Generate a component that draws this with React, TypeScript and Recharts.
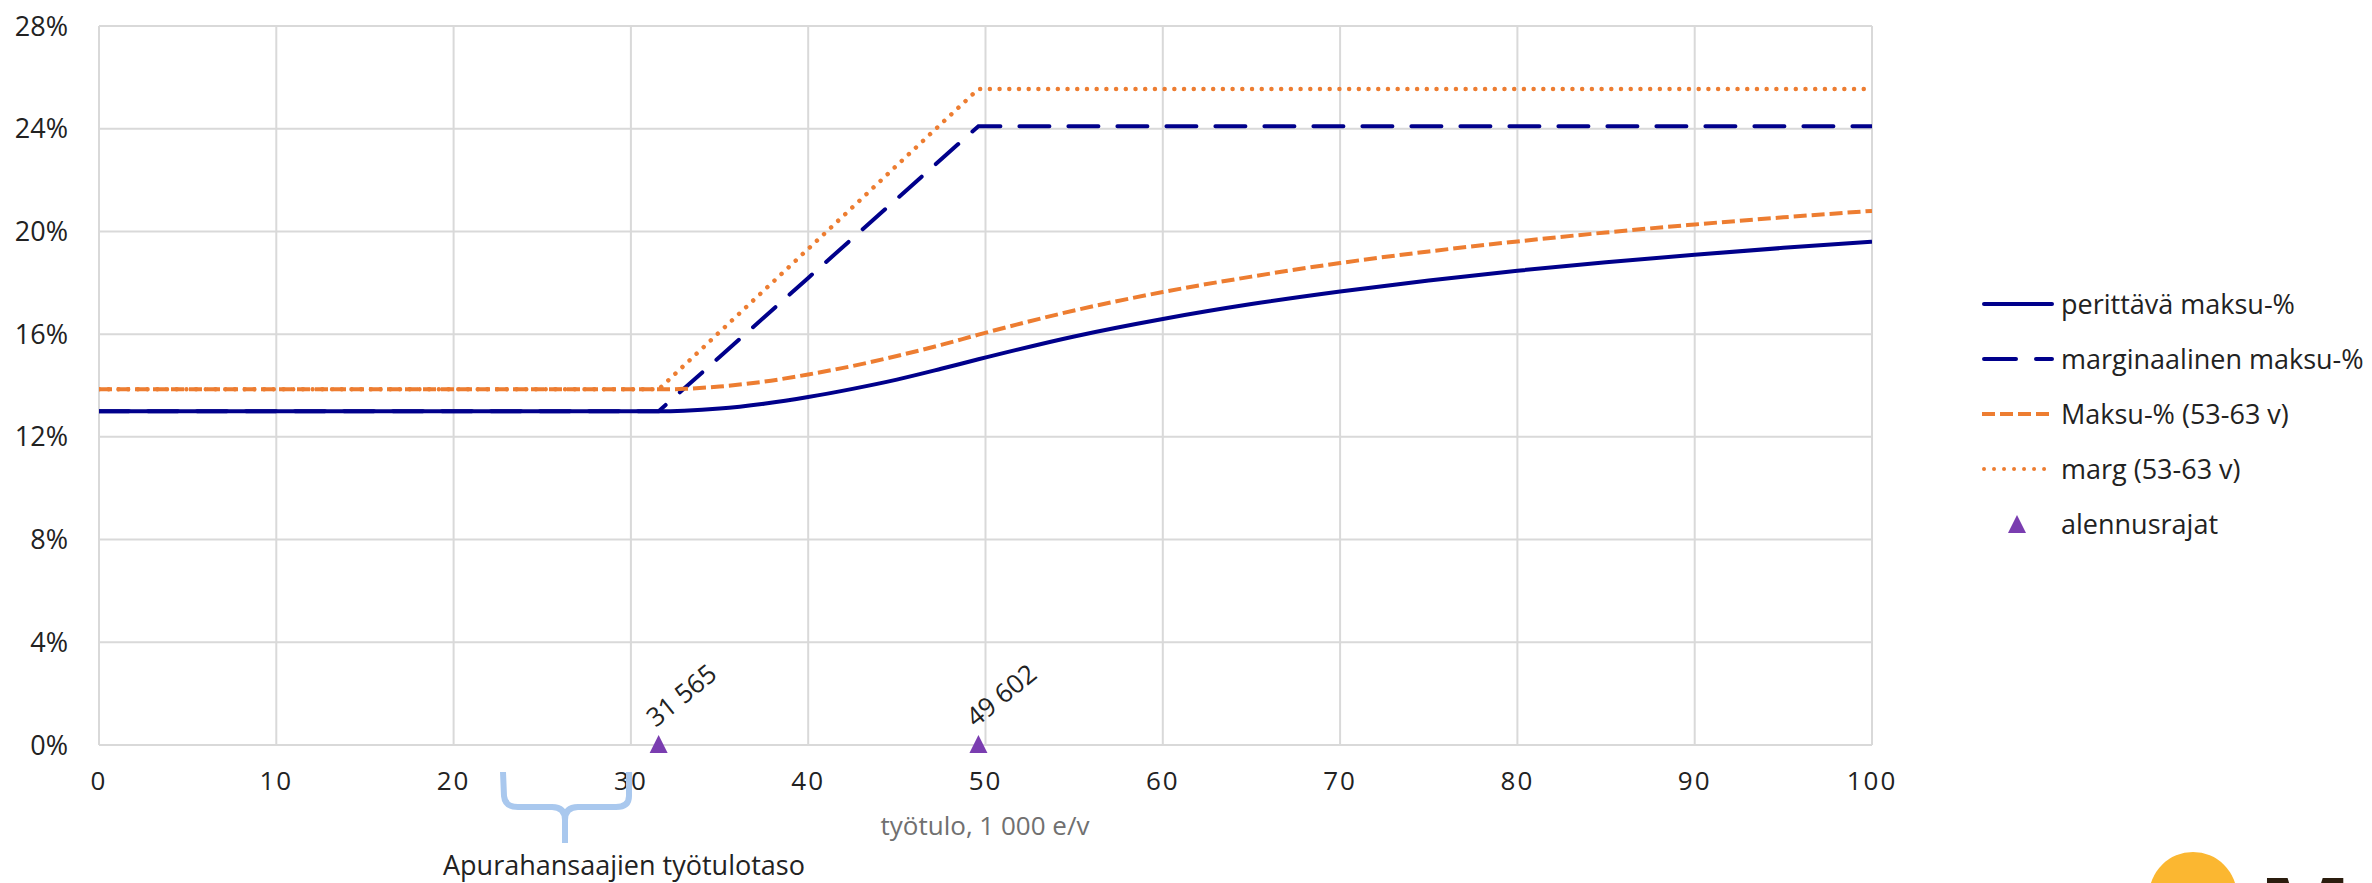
import React from "react";
import {
  ComposedChart,
  Line,
  Scatter,
  XAxis,
  YAxis,
  CartesianGrid,
} from "recharts";

// ---- data (income in 1 000 e/v, rates in %) ----
const tyotulo = [0, 31.565, 33, 35, 37.5, 40, 42.5, 45, 47.5, 49.602, 55, 60, 65, 70, 75, 80, 85, 90, 95, 100];
const perittavaMaksu = [13, 13, 13.02, 13.1, 13.29, 13.55, 13.87, 14.23, 14.65, 15.02, 15.91, 16.59, 17.17, 17.66, 18.09, 18.47, 18.8, 19.09, 19.36, 19.6];
const marginaalinenMaksu = [13, 13, 13.88, 15.11, 16.65, 18.19, 19.73, 21.27, 22.81, 24.1, 24.1, 24.1, 24.1, 24.1, 24.1, 24.1, 24.1, 24.1, 24.1, 24.1];
const maksu5363 = [13.85, 13.85, 13.87, 13.96, 14.15, 14.43, 14.76, 15.15, 15.58, 15.98, 16.92, 17.64, 18.24, 18.77, 19.22, 19.61, 19.96, 20.27, 20.55, 20.8];
const marg5363 = [13.85, 13.85, 14.78, 16.08, 17.7, 19.32, 20.94, 22.57, 24.19, 25.55, 25.55, 25.55, 25.55, 25.55, 25.55, 25.55, 25.55, 25.55, 25.55, 25.55];

const alennusrajatX = [31.565, 49.602];
const alennusrajatY = [0, 0];
const alennusrajatLabels = ["31 565", "49 602"];

const xTicks = [0, 10, 20, 30, 40, 50, 60, 70, 80, 90, 100];
const yTicks = [0, 4, 8, 12, 16, 20, 24, 28];

const seriesNames = [
  "perittävä maksu-%",
  "marginaalinen maksu-%",
  "Maksu-% (53-63 v)",
  "marg (53-63 v)",
  "alennusrajat",
];

const tableData = tyotulo.map((x, i) => ({
  x,
  perittava: perittavaMaksu[i],
  marginaalinen: marginaalinenMaksu[i],
  maksu: maksu5363[i],
  marg: marg5363[i],
}));
const scatterData = alennusrajatX.map((x, i) => ({ x, y: alennusrajatY[i], label: alennusrajatLabels[i] }));

const NAVY = "#00008B";
const ORANGE = "#ED7D31";
const PURPLE = "#7A3DB0";
const GRID = "#D9D9D9";
const TEXT = "#222222";
const FONT = "'Open Sans', sans-serif";

const TriangleShape = (props: any) => {
  const { cx, cy, payload } = props;
  if (cx == null || cy == null) return null;
  const tx = cx - 3;
  const ty = cy - 17;
  return (
    <g>
      <polygon points={`${cx},${cy - 10} ${cx - 9},${cy + 8} ${cx + 9},${cy + 8}`} fill={PURPLE} />
      <text
        x={tx}
        y={ty}
        transform={`rotate(-39 ${tx} ${ty})`}
        fontSize={26}
        fontFamily={FONT}
        fill={TEXT}
        textAnchor="start"
      >
        {payload.label}
      </text>
    </g>
  );
};

const legendItems = [
  { name: seriesNames[0], kind: "solid" },
  { name: seriesNames[1], kind: "longdash" },
  { name: seriesNames[2], kind: "dash" },
  { name: seriesNames[3], kind: "dot" },
  { name: seriesNames[4], kind: "triangle" },
];

const LegendIcon = ({ kind }: { kind: string }) => (
  <svg width={72} height={20} style={{ display: "block" }}>
    {kind === "solid" && <line x1={2} y1={10} x2={70} y2={10} stroke={NAVY} strokeWidth={4} strokeLinecap="round" />}
    {kind === "longdash" && (
      <line x1={2} y1={10} x2={70} y2={10} stroke={NAVY} strokeWidth={4} strokeLinecap="round" strokeDasharray="32 20" />
    )}
    {kind === "dash" && <line x1={0} y1={10} x2={70} y2={10} stroke={ORANGE} strokeWidth={4} strokeDasharray="13 5" />}
    {kind === "dot" && (
      <line x1={2} y1={10} x2={64} y2={10} stroke={ORANGE} strokeWidth={4} strokeLinecap="round" strokeDasharray="0.01 10" />
    )}
    {kind === "triangle" && <polygon points="35,1 26,19 44,19" fill={PURPLE} />}
  </svg>
);

export default function App() {
  return (
    <div style={{ position: "absolute", left: 0, top: 0, width: 2372, height: 883, background: "#fff", fontFamily: FONT, overflow: "hidden" }}>
      <ComposedChart
        width={2372}
        height={883}
        data={tableData}
        margin={{ top: 26, right: 420, bottom: 98, left: 0 }}
      >
        <CartesianGrid yAxisId="left" stroke={GRID} strokeWidth={2} />
        <XAxis
          dataKey="x"
          type="number"
          domain={[0, 100]}
          ticks={xTicks}
          allowDataOverflow
          axisLine={false}
          tickLine={false}
          tickSize={0}
          tickMargin={27}
          height={40}
          tick={{ fontSize: 26, fill: TEXT, fontFamily: FONT, letterSpacing: 2 }}
        />
        <YAxis
          yAxisId="left"
          orientation="left"
          domain={[0, 28]}
          ticks={yTicks}
          tickFormatter={(v: number) => `${v}%`}
          axisLine={false}
          tickLine={false}
          tickSize={0}
          tickMargin={31}
          width={99}
          tick={{ fontSize: 27, fill: TEXT, fontFamily: FONT }}
        />
        <YAxis
          yAxisId="right"
          orientation="right"
          domain={[0, 28]}
          ticks={yTicks}
          tickFormatter={(v: number) => `${v}%`}
          axisLine={false}
          tickLine={{ stroke: GRID, strokeWidth: 2 }}
          tickSize={6}
          tickMargin={17}
          width={80}
          tick={{ fontSize: 27, fill: TEXT, fontFamily: FONT }}
        />
        <Line
          yAxisId="left"
          dataKey="perittava"
          name={seriesNames[0]}
          type="monotone"
          stroke={NAVY}
          strokeWidth={4}
          dot={false}
          activeDot={false}
          isAnimationActive={false}
        />
        <Line
          yAxisId="left"
          dataKey="marginaalinen"
          name={seriesNames[1]}
          type="linear"
          stroke={NAVY}
          strokeWidth={4}
          strokeLinecap="round"
          strokeDasharray="30 19"
          dot={false}
          activeDot={false}
          isAnimationActive={false}
        />
        <Line
          yAxisId="left"
          dataKey="maksu"
          name={seriesNames[2]}
          type="monotone"
          stroke={ORANGE}
          strokeWidth={4}
          strokeDasharray="13 5"
          dot={false}
          activeDot={false}
          isAnimationActive={false}
        />
        <Line
          yAxisId="left"
          dataKey="marg"
          name={seriesNames[3]}
          type="linear"
          stroke={ORANGE}
          strokeWidth={4.5}
          strokeLinecap="round"
          strokeDasharray="0.01 9.7"
          dot={false}
          activeDot={false}
          isAnimationActive={false}
        />
        <Scatter
          yAxisId="left"
          data={scatterData}
          dataKey="y"
          name={seriesNames[4]}
          fill={PURPLE}
          shape={<TriangleShape />}
          isAnimationActive={false}
        />
      </ComposedChart>

      {/* legend */}
      <div style={{ position: "absolute", left: 1982, top: 276, fontFamily: FONT, fontSize: 27, color: TEXT }}>
        {legendItems.map((it, i) => (
          <div key={i} style={{ display: "flex", alignItems: "center", height: 55, whiteSpace: "nowrap" }}>
            <LegendIcon kind={it.kind} />
            <span style={{ marginLeft: 7, lineHeight: "30px" }}>{it.name}</span>
          </div>
        ))}
      </div>

      {/* annotations */}
      <svg width={2372} height={883} style={{ position: "absolute", left: 0, top: 0, pointerEvents: "none" }}>
        <path
          d="M 503 772 L 504 796 Q 505 807 518 807 L 552 807 Q 565 807 565 820 L 565 843 M 565 820 Q 565 807 578 807 L 616 807 Q 629 807 629 796 L 629 772"
          fill="none"
          stroke="#A9C8EE"
          strokeWidth={6}
        />
        <text x={624} y={875} textAnchor="middle" fontSize={27} fontFamily={FONT} fill={TEXT}>
          Apurahansaajien työtulotaso
        </text>
        <text x={985} y={835} textAnchor="middle" fontSize={26} fontFamily={FONT} fill="#707070">
          työtulo, 1 000 e/v
        </text>
        <circle cx={2193} cy={896} r={44} fill="#FBB731" />
        <text x={2258} y={950} fontSize={100} fontWeight="bold" fontFamily={FONT} fill="#2B1D0E">
          Mela
        </text>
      </svg>
    </div>
  );
}
